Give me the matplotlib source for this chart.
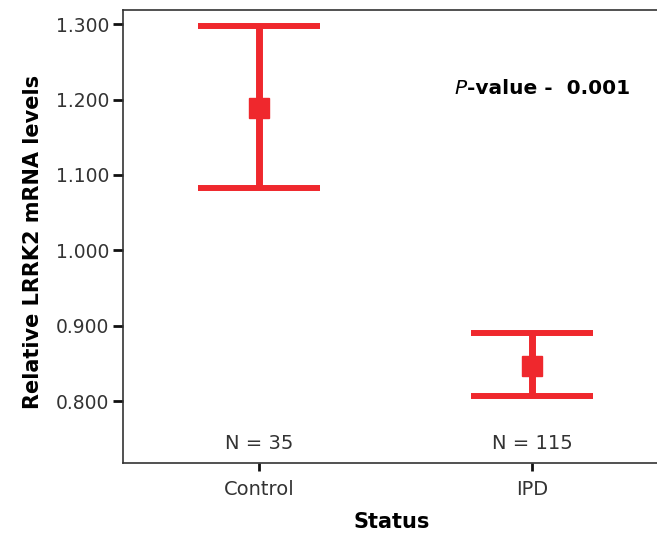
import matplotlib
matplotlib.use("Agg")
import matplotlib.pyplot as plt

plt.rcParams["font.family"] = ["DejaVu Sans"]

# data
groups = ["Control", "IPD"]
means = [1.189, 0.846]
upper = [1.298, 0.890]
lower = [1.0825, 0.8066]
counts = [35, 115]
p_value = "0.001"

red = "#ef282d"

fig = plt.figure(figsize=(6.57, 5.37), dpi=100)
# right edge of the frame sits just past the canvas, as in the original crop
ax = fig.add_axes([0.187, 0.138, 0.817, 0.843])

xs = list(range(len(groups)))
for x, m, lo, hi in zip(xs, means, lower, upper):
    ax.errorbar(x, m, yerr=[[m - lo], [hi - m]], fmt="s", color=red,
                ms=14, lw=5, capsize=44, capthick=4.3, zorder=3)

ax.set_xlim(-0.5, 1.468)
ax.set_ylim(0.718, 1.3185)
ax.set_xticks(xs)
ax.set_xticklabels(groups, fontsize=14)
yt = [0.8, 0.9, 1.0, 1.1, 1.2, 1.3]
ax.set_yticks(yt)
ax.set_yticklabels([f"{v:.3f}" for v in yt], fontsize=13.5)

ax.tick_params(axis="both", direction="out", length=7, width=2,
               colors="#111111")
ax.tick_params(axis="y", pad=3)
ax.tick_params(axis="x", length=6, pad=6)
for lab in ax.get_xticklabels() + ax.get_yticklabels():
    lab.set_color("#333333")
for s in ax.spines.values():
    s.set_linewidth(1.2)
    s.set_color("#333333")

ax.set_ylabel("Relative LRRK2 mRNA levels", fontsize=15, fontweight="bold")
ax.yaxis.set_label_coords(-0.149, 0.488)
ax.set_xlabel("Status", fontsize=15, fontweight="bold")
ax.xaxis.set_label_coords(0.5, -0.108)

for x, n in zip(xs, counts):
    ax.text(x, 0.744, f"N = {n}", ha="center", va="center", fontsize=14,
            color="#333333")

px = (455 - 123) / 537
py = (463 - 88) / 453
t1 = ax.text(px, py, "P", fontsize=14.5, fontstyle="italic",
             ha="left", va="center", transform=ax.transAxes)
ax.annotate("-value -  " + p_value, xy=(1, 0.5), xycoords=t1,
            fontsize=14.5, fontweight="bold", ha="left", va="center")

fig.savefig("out.png", dpi=100)
